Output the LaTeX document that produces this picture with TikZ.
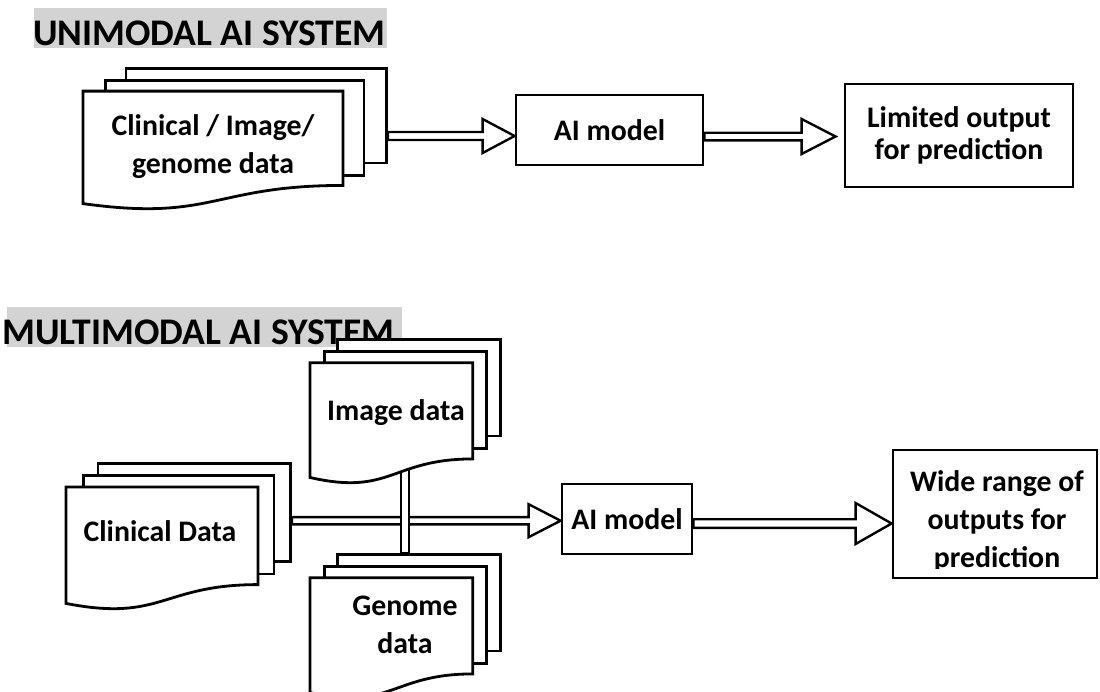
\documentclass[tikz,border=0pt]{standalone}
\usepackage{fontspec}
\setmainfont{Carlito}
\usetikzlibrary{calc}
\definecolor{titlegray}{RGB}{211,211,211}

% stack of three sheets: name, left x, top y, total width, total height
\newcommand{\docstack}[5]{%
  \node[sheet, anchor=north west, minimum width={0.8624*#4*1pt}, minimum height={0.666*#5*1pt}]
    (#1-back) at ({#2+0.1376*#4},{#3}) {};
  \node[sheet, anchor=north west, minimum width={0.8551*#4*1pt}, minimum height={0.668*#5*1pt}]
    (#1-mid) at ({#2+0.0709*#4},{#3+0.084*#5}) {};
  \draw[sheetline] ({#2},{#3+0.17*#5}) -- ({#2+0.861*#4},{#3+0.17*#5})
    -- ({#2+0.861*#4},{#3+0.834*#5})
    .. controls ({#2+0.4305*#4},{#3+0.834*#5}) and ({#2+0.4305*#4},{#3+1.09*#5}) ..
    ({#2},{#3+0.962*#5}) -- cycle;
}

% hollow block arrow: start, tip, shaft half height, head half height, head length
\newcommand{\blockarrow}[5]{%
  \draw[arrowline] let \p1=(#1), \p2=(#2) in
    (\x1,{\y1+#3pt}) -- ({\x2-#5pt},{\y1+#3pt}) -- ({\x2-#5pt},{\y1+#4pt}) -- (\x2,\y1)
    -- ({\x2-#5pt},{\y1-#4pt}) -- ({\x2-#5pt},{\y1-#3pt}) -- (\x1,{\y1-#3pt}) -- cycle;
}

\tikzset{
  sheet/.style={draw, fill=white, line width=2.8pt, inner sep=0pt},
  sheetline/.style={draw, fill=white, line width=2.8pt, line join=miter},
  box/.style={draw, fill=white, line width=2.8pt, inner sep=0pt, align=center},
  arrowline/.style={draw, fill=white, line width=2.4pt, line join=miter},
  label/.style={inner sep=0pt, align=center, font=\bfseries\fontsize{29.8}{38}\selectfont},
  tightlabel/.style={inner sep=0pt, align=center, font=\bfseries\fontsize{29.8}{32}\selectfont},
  title/.style={inner sep=0pt, anchor=base west, font=\bfseries\fontsize{37.6}{40}\selectfont},
}

\begin{document}
\begin{tikzpicture}[x=1pt, y=-1pt]
\useasboundingbox (0,0) rectangle (1100,691);

% ---------- unimodal ----------
\fill[titlegray] (34,8) rectangle (387,48);
\node[title] (t-uni) at (33,45) {UNIMODAL AI SYSTEM};

\docstack{uni}{83}{67}{302}{142}
\node[label] (uni-text) at (213,147) {Clinical / Image/\\genome data};

\node[box, minimum width=187, minimum height=70] (uai) at (609.5,130) {};
\node[label] (uai-text) at (uai.center) {AI model};
\node[box, minimum width=228, minimum height=103] (uout) at (959,135.5) {};
\node[tightlabel] (uout-text) at (uout.center) {Limited output\\for prediction};

\coordinate (ua-start) at (uni-back.east |- 0,136);
\coordinate (ub-start) at (uai.east |- 0,136.5);
\coordinate (ub-tip) at ($(uout.west)+(-8,0)$);
\blockarrow{ua-start}{uai.west}{4}{17}{32}
\blockarrow{ub-start}{ub-tip}{3.8}{17.5}{34}

% ---------- multimodal ----------
\fill[titlegray] (7,307) rectangle (402,347);
\node[title] (t-multi) at (2,344) {MULTIMODAL AI SYSTEM};

\docstack{clin}{66}{462}{223}{147}
\node[label, anchor=base] (clin-text) at (160,541.5) {Clinical Data};

\node[box, minimum width=130, minimum height=70] (mai) at (627,519) {};
\node[label] (mai-text) at (mai.center) {AI model};

\coordinate (ma-start) at (clin-back.east |- 0,520.7);
\blockarrow{ma-start}{mai.west}{3.6}{16.5}{32}

% bar joining the image and genome stacks
\draw[arrowline] (401,466) rectangle (409,553);

\docstack{img}{310}{338}{189}{145}
\node[label, anchor=base] (img-text) at (396,420) {Image data};

\docstack{gen}{310}{553}{189}{145}
\node[label] (gen-text) at (405,625) {Genome\\data};

\node[box, minimum width=204, minimum height=128] (mout) at (995,514) {};
\begin{scope}
  \clip (893,450) rectangle (1097,568);
  \node[label] (mout-text) at (997,521) {Wide range of\\outputs for\\prediction};
\end{scope}

\coordinate (mb-start) at (mai.east |- 0,523.5);
\blockarrow{mb-start}{mout.west}{4.3}{20.5}{36}
\end{tikzpicture}
\end{document}
